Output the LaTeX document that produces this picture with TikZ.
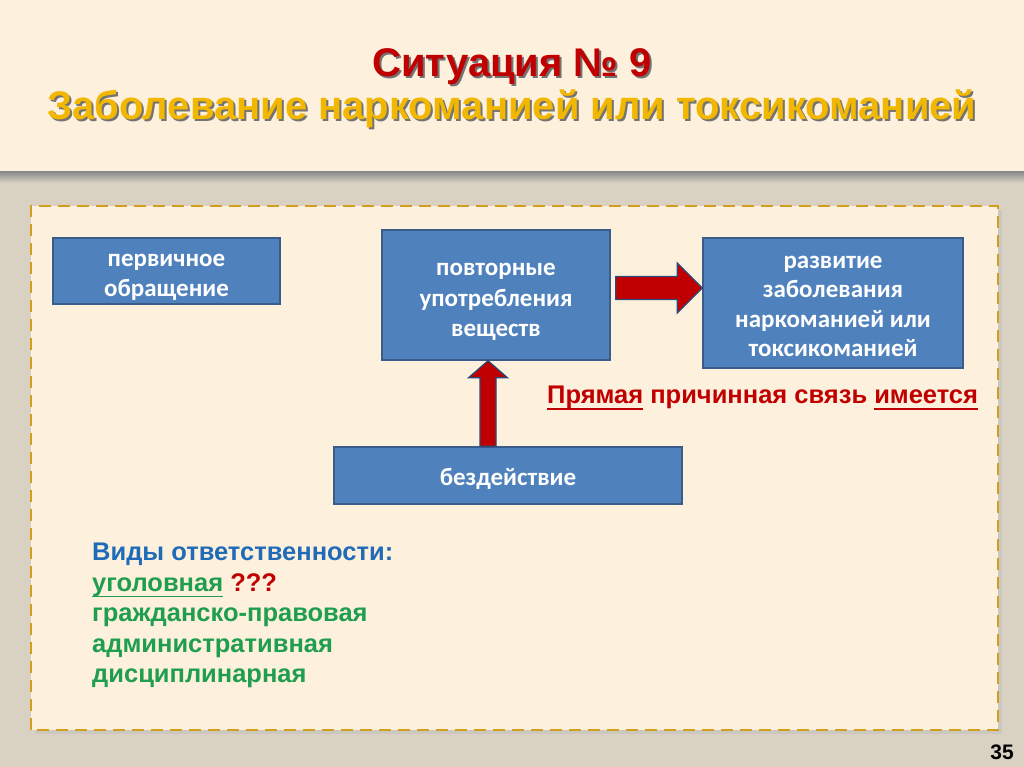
\documentclass[tikz,border=0pt]{standalone}
\usepackage{fontspec}
\setmainfont{Liberation Sans}
\newfontfamily\boxfont{Carlito}
\usetikzlibrary{calc,positioning}
\newcommand{\thickul}[1]{\setbox0\hbox{#1}\rlap{\rule[-6pt]{\wd0}{1.8pt}}\box0\relax}

\definecolor{linen}{HTML}{D9D2C2}
\definecolor{cream}{HTML}{FDF0DC}
\definecolor{gold}{HTML}{D29E1E}
\definecolor{boxblue}{HTML}{4F81BD}
\definecolor{boxedge}{HTML}{385D8A}
\definecolor{darkred}{HTML}{C00000}
\definecolor{titlegold}{HTML}{F2B700}
\definecolor{vidblue}{HTML}{1F6BB8}
\definecolor{vidgreen}{HTML}{1E9E4E}
\definecolor{arrowedge}{HTML}{2B4A78}

\begin{document}
\begin{tikzpicture}[x=1pt,y=1pt,
  box/.style={draw=boxedge,line width=1.5pt,fill=boxblue,text=white,align=center,inner sep=0pt,
    font=\boxfont\bfseries\fontsize{25}{30.5}\selectfont,text depth=0pt},
  bigarrow/.style={draw=arrowedge,line width=1.2pt,fill=darkred,line join=miter},
  titlefont/.style={font=\bfseries\fontsize{40}{46}\selectfont},
  bodyfont/.style={font=\bfseries\fontsize{25.5}{30.5}\selectfont}]
\useasboundingbox (0,0) rectangle (1024,767);
\fill[linen] (0,0) rectangle (1024,767);
\fill[cream] (0,595) rectangle (1024,767);
\shade[top color=black!45,bottom color=linen] (0,584) rectangle (1024,595);
\fill[black!25,opacity=.5] (35,33) rectangle (1002,557);
\draw[gold,fill=cream,line width=2.5pt,dash pattern=on 12pt off 7pt] (31,37) rectangle (998,561);

\node[titlefont,text=black!55,anchor=base] at (514,688) {Ситуация № 9};
\node[titlefont,text=darkred,anchor=base] (sit) at (512,690) {Ситуация № 9};
\node[titlefont,text=black!55,anchor=base] at (514,645) {Заболевание наркоманией или токсикоманией};
\node[titlefont,text=titlegold,anchor=base] (zab) at (512,647) {Заболевание наркоманией или токсикоманией};

\node[box,minimum width=227pt,minimum height=66pt,text height=52pt] (perv) at (166.5,496) {первичное\\обращение};
\node[box,minimum width=228pt,minimum height=130pt,text height=84pt] (povt) at (496,472) {повторные\\употребления\\веществ};
\node[box,minimum width=260pt,minimum height=130pt,text height=108pt,
  font=\boxfont\bfseries\fontsize{25}{29.5}\selectfont] (razv) at (833,464) {развитие\\заболевания\\наркоманией или\\токсикоманией};
\node[box,minimum width=348pt,minimum height=57pt,text height=21pt] (bezd) at (508,291.5) {бездействие};

\coordinate (ra1) at ($(povt.east)+(5,7)$);
\coordinate (ra2) at (razv.west |- ra1);
\draw[bigarrow] ($(ra1)+(0,11.5)$) -- ($(ra2)+(-25,11.5)$) -- ($(ra2)+(-25,25)$) -- (ra2)
  -- ($(ra2)+(-25,-25)$) -- ($(ra2)+(-25,-11.5)$) -- ($(ra1)+(0,-11.5)$) -- cycle;

\coordinate (ua1) at ($(bezd.north)+(-20,0)$);
\coordinate (ua2) at (ua1 |- povt.south);
\draw[bigarrow] ($(ua1)+(-8,0)$) -- ($(ua2)+(-8,-17)$) -- ($(ua2)+(-19.5,-17)$) -- (ua2)
  -- ($(ua2)+(19.5,-17)$) -- ($(ua2)+(8,-17)$) -- ($(ua1)+(8,0)$) -- cycle;

\node[bodyfont,text=darkred,anchor=base west,inner sep=0pt] (svyaz) at (547,363)
  {\thickul{Прямая} причинная связь \thickul{имеется}};

\node[bodyfont,anchor=base west,align=left,inner sep=0pt] (vidy) at (92,84)
  {\textcolor{vidblue}{Виды ответственности:}\\
   \textcolor{vidgreen}{\thickul{уголовная}} \textcolor{darkred}{???}\\
   \textcolor{vidgreen}{гражданско-правовая}\\
   \textcolor{vidgreen}{административная}\\
   \textcolor{vidgreen}{дисциплинарная}};

\node[font=\bfseries\fontsize{21}{24}\selectfont,anchor=base] (num) at (1002,7) {35};
\end{tikzpicture}
\end{document}
